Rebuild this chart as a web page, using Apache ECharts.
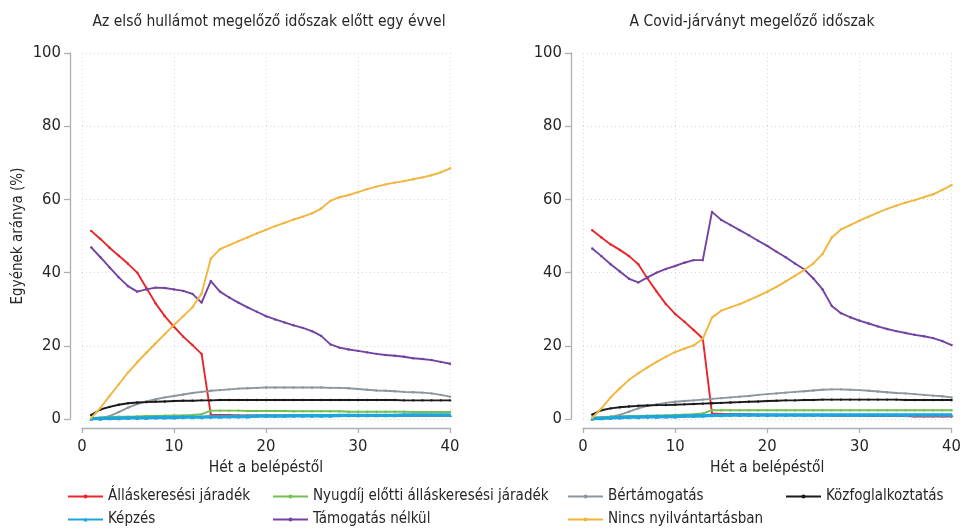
<!DOCTYPE html>
<html>
<head>
<meta charset="utf-8">
<script src="https://cdn.jsdelivr.net/npm/echarts@6/dist/echarts.min.js"></script>
<style>
html,body{margin:0;padding:0;background:#fff;}
#c{width:964px;height:530px;}
</style>
</head>
<body>
<div id="c"></div>
<script>
const weeks = Array.from({length: 40}, (_, i) => i + 1);

const titles = ['Az első hullámot megelőző időszak előtt egy évvel', 'A Covid-járványt megelőző időszak'];
const seriesNames = ['Álláskeresési járadék', 'Nyugdíj előtti álláskeresési járadék', 'Bértámogatás', 'Közfoglalkoztatás', 'Képzés', 'Támogatás nélkül', 'Nincs nyilvántartásban'];
const yTicks = [0, 20, 40, 60, 80, 100];
const xTicks = [0, 10, 20, 30, 40];

// Left panel
const L_allas = [51.4,49.2,46.8,44.6,42.4,40.0,35.8,31.6,28.1,25.2,22.5,20.2,17.8,1.2,
  1.1,1.1,1.0,1.0,1.0,1.0,1.0,1.0,1.0,1.0,1.0,1.0,1.0,0.9,0.9,0.9,0.9,0.9,0.9,0.9,0.9,0.9,0.9,0.9,0.9,0.9];
const L_nyugdij = [0.3,0.4,0.5,0.6,0.6,0.7,0.8,0.8,0.9,1.0,1.0,1.1,1.3,2.3,
  2.3,2.3,2.3,2.2,2.2,2.2,2.2,2.2,2.1,2.1,2.1,2.1,2.1,2.1,2.0,2.0,2.0,2.0,2.0,2.0,2.0,1.9,1.9,1.9,1.9,1.9];
const L_bert = [0.1,0.3,0.8,1.9,3.1,4.1,4.8,5.4,5.9,6.3,6.7,7.1,7.4,7.7,7.9,8.1,8.3,8.4,8.5,8.6,
  8.6,8.6,8.6,8.6,8.6,8.6,8.5,8.5,8.4,8.2,8.0,7.8,7.7,7.6,7.4,7.3,7.2,7.0,6.6,6.1];
const L_kozf = [1.1,2.6,3.3,3.9,4.3,4.5,4.6,4.7,4.8,4.9,5.0,5.0,5.1,5.1,
  5.2,5.2,5.2,5.2,5.2,5.2,5.2,5.2,5.2,5.2,5.2,5.2,5.2,5.2,5.2,5.2,5.2,5.2,5.2,5.2,5.1,5.1,5.1,5.1,5.1,5.1];
const L_kepzes = [0.1,0.1,0.2,0.2,0.3,0.3,0.3,0.4,0.4,0.4,0.5,0.5,0.5,0.6,0.6,0.7,0.7,0.7,0.8,0.8,
  0.8,0.8,0.9,0.9,0.9,0.9,0.9,1.0,1.0,1.0,1.0,1.0,1.0,1.0,1.1,1.1,1.1,1.1,1.1,1.1];
const L_tamnelk = [46.9,44.2,41.4,38.7,36.3,34.8,35.4,35.9,35.8,35.4,35.0,34.2,31.8,37.7,34.8,33.2,31.8,30.5,29.3,28.1,
  27.2,26.4,25.6,24.9,24.0,22.7,20.4,19.5,19.0,18.6,18.2,17.8,17.5,17.3,17.0,16.6,16.4,16.1,15.6,15.1];
const L_nincs = [0.3,3.0,6.3,9.5,12.7,15.5,18.1,20.7,23.2,25.7,28.1,30.5,34.3,43.8,46.4,47.5,48.6,49.6,50.7,51.7,
  52.7,53.6,54.5,55.3,56.2,57.5,59.6,60.6,61.2,62.0,62.8,63.5,64.1,64.6,65.0,65.5,66.0,66.6,67.4,68.5];

// Right panel
const R_allas = [51.6,49.6,47.7,46.2,44.5,42.3,38.4,34.8,31.4,28.7,26.6,24.3,22.0,1.5,
  1.4,1.4,1.3,1.3,1.2,1.2,1.1,1.1,1.1,1.0,1.0,1.0,0.9,0.9,0.9,0.9,0.8,0.8,0.8,0.8,0.8,0.7,0.7,0.7,0.7,0.7];
const R_nyugdij = [0.4,0.5,0.6,0.7,0.8,0.8,0.9,1.0,1.0,1.1,1.2,1.3,1.5,2.4,
  2.4,2.4,2.4,2.4,2.4,2.4,2.4,2.4,2.4,2.4,2.4,2.4,2.4,2.4,2.4,2.4,2.4,2.4,2.4,2.4,2.4,2.4,2.4,2.4,2.4,2.4];
const R_bert = [0.1,0.3,0.6,1.1,2.0,2.9,3.6,4.0,4.4,4.7,4.9,5.1,5.3,5.5,
  5.7,5.9,6.1,6.3,6.6,6.8,7.0,7.2,7.4,7.6,7.8,8.0,8.1,8.1,8.0,7.9,7.7,7.5,7.3,7.1,7.0,6.8,6.6,6.4,6.2,5.9];
const R_kozf = [1.2,2.4,2.9,3.2,3.4,3.6,3.7,3.8,3.8,3.9,4.0,4.1,4.2,4.3,4.4,4.5,4.6,4.7,4.8,4.9,
  5.0,5.1,5.1,5.2,5.2,5.3,5.3,5.3,5.3,5.3,5.3,5.3,5.3,5.3,5.2,5.2,5.2,5.2,5.2,5.2];
const R_kepzes = [0.1,0.2,0.3,0.4,0.5,0.5,0.6,0.6,0.7,0.7,0.8,0.8,0.9,1.0,1.0,1.1,1.1,1.1,1.1,1.1,
  1.1,1.1,1.1,1.1,1.1,1.1,1.1,1.1,1.1,1.1,1.1,1.1,1.1,1.1,1.1,1.1,1.1,1.1,1.1,1.1];
const R_tamnelk = [46.6,44.5,42.3,40.3,38.3,37.3,38.7,40.0,41.0,41.8,42.7,43.4,43.4,56.6,54.4,53.0,51.6,50.2,48.7,47.3,
  45.7,44.2,42.5,40.9,38.4,35.4,30.9,28.9,27.8,26.9,26.1,25.3,24.6,24.0,23.5,23.0,22.6,22.1,21.3,20.2];
const R_nincs = [0.3,2.9,5.9,8.4,10.7,12.5,14.1,15.6,17.0,18.3,19.2,20.1,21.9,27.7,29.6,30.5,31.4,32.5,33.6,34.8,
  36.1,37.6,39.1,40.7,42.5,45.1,49.6,51.8,53.0,54.2,55.3,56.4,57.4,58.3,59.1,59.8,60.6,61.4,62.6,63.9];

const leftData = [L_allas, L_nyugdij, L_bert, L_kozf, L_kepzes, L_tamnelk, L_nincs];
const rightData = [R_allas, R_nyugdij, R_bert, R_kozf, R_kepzes, R_tamnelk, R_nincs];

const colors = ['#e8262b', '#74c050', '#8c969e', '#1a1a1a', '#1ea5dd', '#7243a0', '#f2b53e'];
const FONT = '"Liberation Sans Narrow", "Arial Narrow", "DejaVu Sans Condensed", sans-serif';
const TXT = '#262626';
const AXC = '#a9b0b7';

function pairs(arr) { return weeks.map((w, i) => [w, arr[i]]); }

function mkSeries(dataArr, gi) {
  return dataArr.map((arr, k) => ({
    name: seriesNames[k],
    type: 'line',
    xAxisIndex: gi, yAxisIndex: gi,
    data: pairs(arr),
    showSymbol: true,
    symbol: k === 4 ? 'triangle' : 'circle',
    symbolSize: k === 4 ? 4 : 2.4,
    lineStyle: { width: k === 4 ? 3.4 : 1.9, color: colors[k] },
    itemStyle: { color: colors[k] },
    z: [2, 3, 2, 4, 5, 6, 7][k],
    emphasis: { disabled: true },
    animation: false
  }));
}

const grids = [
  { left: 82, top: 53, width: 368, height: 366 },
  { left: 583, top: 53, width: 369, height: 366 }
];

function xAx(gi) {
  return {
    type: 'value', gridIndex: gi, min: xTicks[0], max: xTicks[xTicks.length - 1], interval: 10,
    offset: 9,
    name: 'Hét a belépéstől', nameLocation: 'middle', nameGap: 25,
    nameTextStyle: { fontFamily: FONT, fontSize: 15.5, color: TXT },
    axisLine: { show: true, onZero: false, lineStyle: { color: AXC, width: 1.3 } },
    axisTick: { show: true, length: 5, lineStyle: { color: AXC, width: 1.3 } },
    axisLabel: { fontFamily: FONT, fontSize: 16.5, color: TXT, margin: 10 },
    splitLine: { show: true, lineStyle: { color: '#d6d6d6', type: [1, 3], width: 1 } }
  };
}
function yAx(gi) {
  return {
    type: 'value', gridIndex: gi, min: yTicks[0], max: yTicks[yTicks.length - 1], interval: 20,
    offset: 12,
    name: gi === 0 ? 'Egyének aránya (%)' : '', nameLocation: 'middle', nameGap: 44, nameRotate: 90,
    nameTextStyle: { fontFamily: FONT, fontSize: 15, color: TXT },
    axisLine: { show: true, onZero: false, lineStyle: { color: AXC, width: 1.3 } },
    axisTick: { show: true, length: 6, lineStyle: { color: AXC, width: 1.3 } },
    axisLabel: { fontFamily: FONT, fontSize: 16.5, color: TXT, margin: 9 },
    splitLine: { show: true, lineStyle: { color: '#d6d6d6', type: [1, 3], width: 1 } }
  };
}

function mkLegend(left, top, name) {
  return {
    orient: 'horizontal', left: left, top: top,
    itemWidth: 35, itemHeight: 5, itemGap: 0,
    data: [name],
    textStyle: { fontFamily: FONT, fontSize: 15, color: TXT, padding: [0, 0, 0, 0] },
    padding: 0,
    selectedMode: false
  };
}

const chart = echarts.init(document.getElementById('c'), null, { renderer: 'canvas' });
chart.setOption({
  animation: false,
  backgroundColor: '#fff',
  title: [
    { text: titles[0], left: 264, top: 9, textAlign: 'center', textStyle: { fontFamily: FONT, fontSize: 15.5, fontWeight: 'normal', color: TXT } },
    { text: titles[1], left: 747, top: 9, textAlign: 'center', textStyle: { fontFamily: FONT, fontSize: 15.5, fontWeight: 'normal', color: TXT } }
  ],
  grid: grids,
  xAxis: [xAx(0), xAx(1)],
  yAxis: [yAx(0), yAx(1)],
  legend: [
    mkLegend(67, 489, seriesNames[0]),
    mkLegend(272, 489, seriesNames[1]),
    mkLegend(567, 489, seriesNames[2]),
    mkLegend(785, 489, seriesNames[3]),
    mkLegend(67, 512, seriesNames[4]),
    mkLegend(272, 512, seriesNames[5]),
    mkLegend(567, 512, seriesNames[6])
  ],
  series: mkSeries(leftData, 0).concat(mkSeries(rightData, 1))
});
</script>
</body>
</html>
